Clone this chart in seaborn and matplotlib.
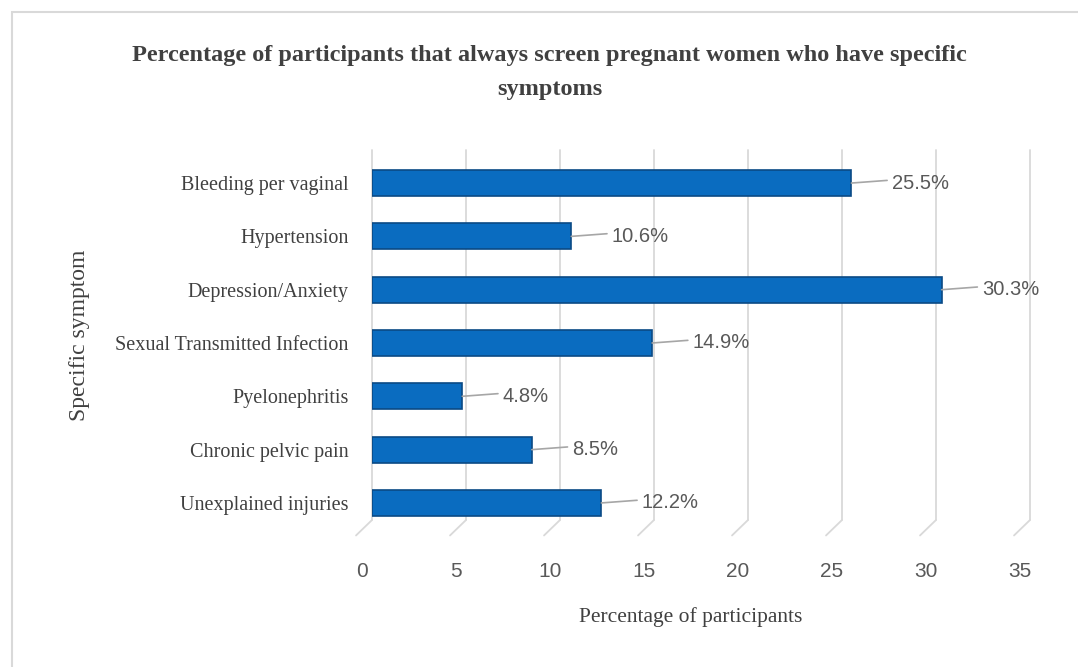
import matplotlib
matplotlib.use("Agg")
import matplotlib.pyplot as plt
import matplotlib.transforms as mtrans
import seaborn as sns
import pandas as pd
from matplotlib.patches import Rectangle

categories = ["Bleeding per vaginal", "Hypertension", "Depression/Anxiety",
              "Sexual Transmitted Infection", "Pyelonephritis",
              "Chronic pelvic pain", "Unexplained injuries"]
values = [25.5, 10.6, 30.3, 14.9, 4.8, 8.5, 12.2]
x_ticks = [0, 5, 10, 15, 20, 25, 30, 35]

df = pd.DataFrame({"symptom": categories, "pct": values})

sns.set_theme(style="white")
plt.rcParams["font.family"] = ["Liberation Serif", "DejaVu Serif"]

fig = plt.figure(figsize=(10.78, 6.67), dpi=100)
fig.patch.set_facecolor("white")
fig.add_artist(Rectangle((12/1078, -0.01), 1.02, 1 - 12/667 + 0.01,
                         transform=fig.transFigure, fill=False,
                         edgecolor="#d9d9d9", linewidth=1.5))

ax = fig.add_axes([372/1078, 1 - 520/667, 658/1078, 370/667])
sns.barplot(data=df, y="symptom", x="pct", order=categories, orient="h",
            color="#0a6cc0", saturation=1, width=0.49,
            edgecolor="#0b4a85", linewidth=1.2, ax=ax, zorder=3)

ymax = 6.32
ax.set_xlim(0, 35)
ax.set_ylim(ymax, -0.62)
ax.set_xticks(x_ticks)
ax.set_xticklabels([str(t) for t in x_ticks], family=["Liberation Sans"],
                   fontsize=15, color="#595959")
ax.tick_params(axis="x", length=0, pad=30)
ax.tick_params(axis="y", length=0, pad=17, labelsize=14.5, labelcolor="#404040")
shift = mtrans.ScaledTranslation(-10/100, 0, fig.dpi_scale_trans)
for lab in ax.get_xticklabels():
    lab.set_transform(lab.get_transform() + shift)
for s in ax.spines.values():
    s.set_visible(False)

for t in x_ticks:
    ax.plot([t, t], [-0.62, ymax], color="#d9d9d9", lw=1.3, zorder=1, clip_on=False)
    ax.plot([t, t - 0.85], [ymax, ymax + 0.29], color="#d9d9d9", lw=1.3, zorder=1, clip_on=False)

for i, v in enumerate(values):
    ax.plot([v, v + 1.9], [i, i - 0.05], color="#a6a6a6", lw=1.2, zorder=4)
    ax.text(v + 2.15, i, f"{v}%", va="center", ha="left", fontsize=14.5,
            color="#595959", family=["Liberation Sans"])

ax.set_xlabel("Percentage of participants", fontsize=15.5, color="#404040")
ax.xaxis.set_label_coords(0.485, -0.235)
ax.set_ylabel("Specific symptom", fontsize=17, color="#404040", labelpad=18)

fig.text(0.51, 1 - 55/667, "Percentage of participants that always screen pregnant women who have specific",
         ha="center", va="center", fontsize=17.5, fontweight="bold", color="#404040")
fig.text(0.51, 1 - 90/667, "symptoms", ha="center", va="center", fontsize=17.5,
         fontweight="bold", color="#404040")

fig.savefig("out.png", dpi=100)
